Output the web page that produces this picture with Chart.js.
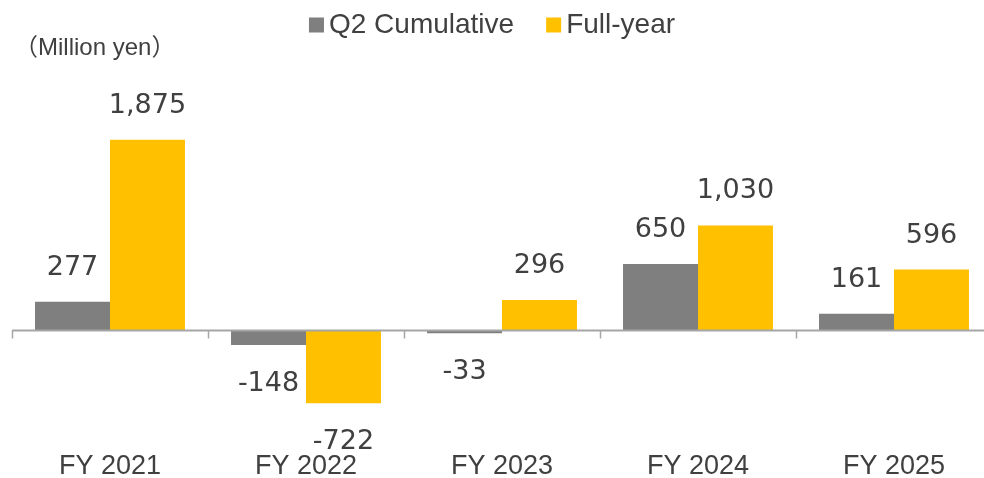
<!DOCTYPE html>
<html>
<head>
<meta charset="utf-8">
<script src="https://cdn.jsdelivr.net/npm/chart.js@4/dist/chart.umd.min.js"></script>
<style>
  html, body { margin: 0; padding: 0; background: #ffffff; overflow: hidden; }
  #wrap { position: relative; width: 1000px; height: 478px; }
</style>
</head>
<body>
<div id="wrap"><canvas id="c"></canvas></div>
<script>
const categories = ["FY 2021", "FY 2022", "FY 2023", "FY 2024", "FY 2025"];
const q2Cumulative = [277, -148, -33, 650, 161];
const fullYear = [1875, -722, 296, 1030, 596];
const seriesNames = ["Q2 Cumulative", "Full-year"];
const unitLabel = "（Million yen）";

const TEXT = "#404040";
const GRAY = "#7f7f7f";
const YELLOW = "#ffc000";

const overlay = {
  id: "overlay",
  afterDatasetsDraw(chart) {
    const ctx = chart.ctx;
    const x = chart.scales.x, y = chart.scales.y;
    const area = chart.chartArea;
    const y0 = Math.round(y.getPixelForValue(0)) + 0.5;
    ctx.save();
    // zero axis line
    ctx.strokeStyle = "#a6a6a6";
    ctx.lineWidth = 2;
    ctx.beginPath();
    ctx.moveTo(area.left, y0);
    ctx.lineTo(area.right, y0);
    ctx.stroke();
    // tick marks at category boundaries
    const n = chart.data.labels.length;
    const step = (area.right - area.left) / n;
    ctx.lineWidth = 1.5;
    for (let i = 0; i <= n; i++) {
      const px = Math.round(area.left + i * step) + 0.5;
      ctx.beginPath();
      ctx.moveTo(px, y0);
      ctx.lineTo(px, y0 + 8);
      ctx.stroke();
    }
    // data labels
    ctx.fillStyle = TEXT;
    ctx.font = '27px "DejaVu Sans"';
    ctx.textAlign = "center";
    ctx.textBaseline = "middle";
    chart.data.datasets.forEach((ds, di) => {
      const meta = chart.getDatasetMeta(di);
      meta.data.forEach((el, i) => {
        const v = ds.data[i];
        const ty = v >= 0 ? el.y - 34 : el.y + 39;
        ctx.fillText(v.toLocaleString("en-US"), el.x, ty);
      });
    });
    // unit label
    ctx.textAlign = "left";
    ctx.font = '24px "Liberation Sans", "Noto Sans CJK JP"';
    ctx.fillText(unitLabel, 14, 48);
    // legend
    ctx.font = '28px "Liberation Sans"';
    const box = 15, gapText = 5, gapItem = 32;
    const items = chart.data.datasets.map(d => ({ label: d.label, color: d.backgroundColor, w: ctx.measureText(d.label).width }));
    let total = 0;
    items.forEach((it, i) => { total += box + gapText + it.w + (i < items.length - 1 ? gapItem : 0); });
    let lx = 492 - total / 2;
    const ly = 25;
    items.forEach((it) => {
      ctx.fillStyle = it.color;
      ctx.fillRect(lx, ly - 7.5, box, box);
      lx += box + gapText;
      ctx.fillStyle = TEXT;
      ctx.fillText(it.label, lx, ly);
      lx += it.w + gapItem;
    });
    ctx.restore();
  }
};

new Chart(document.getElementById("c"), {
  type: "bar",
  data: {
    labels: categories,
    datasets: [
      { label: seriesNames[0], data: q2Cumulative, backgroundColor: GRAY },
      { label: seriesNames[1], data: fullYear, backgroundColor: YELLOW }
    ]
  },
  options: {
    responsive: true,
    maintainAspectRatio: false,
    animation: false,
    layout: { padding: { top: 60, left: 12, right: 8, bottom: 0 } },
    datasets: { bar: { categoryPercentage: 0.765, barPercentage: 1.0 } },
    plugins: { legend: { display: false }, tooltip: { enabled: false } },
    scales: {
      x: {
        grid: { display: false },
        border: { display: false },
        ticks: {
          color: TEXT,
          padding: -2,
          font: { family: "Liberation Sans", size: 27, lineHeight: 1.0 },
          maxRotation: 0
        }
      },
      y: {
        display: false,
        min: -1153,
        max: 2660
      }
    }
  },
  plugins: [overlay]
});
</script>
</body>
</html>
